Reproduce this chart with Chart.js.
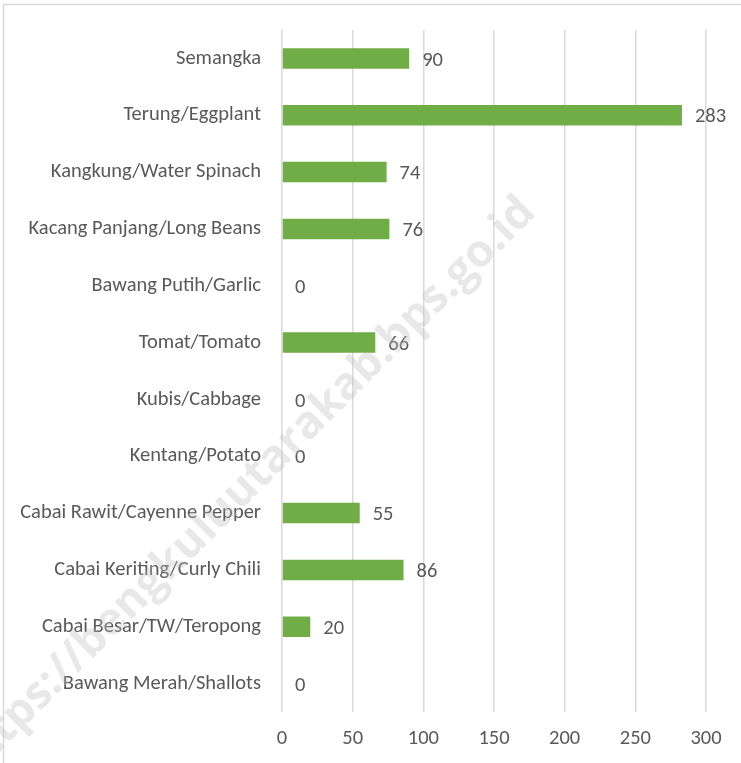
<!DOCTYPE html>
<html>
<head>
<meta charset="utf-8">
<script src="https://cdn.jsdelivr.net/npm/chart.js@4/dist/chart.umd.min.js"></script>
<style>
  html, body { margin: 0; padding: 0; background: #fff; }
  #wrap { width: 741px; height: 763px; position: relative; }
</style>
</head>
<body>
<div id="wrap"><canvas id="chart"></canvas></div>
<script>
// --- data ---
const categories = [
    "Semangka",
    "Terung/Eggplant",
    "Kangkung/Water Spinach",
    "Kacang Panjang/Long Beans",
    "Bawang Putih/Garlic",
    "Tomat/Tomato",
    "Kubis/Cabbage",
    "Kentang/Potato",
    "Cabai Rawit/Cayenne Pepper",
    "Cabai Keriting/Curly Chili",
    "Cabai Besar/TW/Teropong",
    "Bawang Merah/Shallots"
];
const values = [90, 283, 74, 76, 0, 66, 0, 0, 55, 86, 20, 0];
const xTicks = [0, 50, 100, 150, 200, 250, 300];

const FONT = "Calibri, Carlito, Lato, sans-serif";
const FSIZE = 20.5;
const TEXT = '#595959';

// value labels next to the bars
const valueLabels = {
    id: 'valueLabels',
    afterDatasetsDraw(chart) {
        const ctx = chart.ctx;
        const meta = chart.getDatasetMeta(0);
        ctx.save();
        ctx.font = FSIZE + 'px ' + FONT;
        ctx.fillStyle = TEXT;
        ctx.textAlign = 'left';
        ctx.textBaseline = 'middle';
        meta.data.forEach((bar, i) => {
            ctx.fillText(String(values[i]), bar.x + 13, bar.y + 2);
        });
        ctx.restore();
    }
};

// outer frame + watermark
const decor = {
    id: 'decor',
    beforeDraw(chart) {
        const ctx = chart.ctx;
        ctx.save();
        ctx.strokeStyle = '#d9d9d9';
        ctx.lineWidth = 1.5;
        ctx.strokeRect(3.5, 4.5, chart.width + 10, chart.height + 10);
        ctx.restore();
    },
    afterDraw(chart) {
        const ctx = chart.ctx;
        ctx.save();
        ctx.translate(245, 488);
        ctx.rotate(-45 * Math.PI / 180);
        ctx.font = 'bold 45px "Open Sans", sans-serif';
        ctx.fillStyle = 'rgba(190,190,190,0.35)';
        ctx.textAlign = 'center';
        ctx.textBaseline = 'middle';
        ctx.fillText('https://bengkuluutarakab.bps.go.id', 0, 0);
        ctx.restore();
    }
};

new Chart(document.getElementById('chart'), {
    type: 'bar',
    data: {
        labels: categories,
        datasets: [{
            data: values,
            backgroundColor: '#70AD47',
            borderWidth: 0,
            barPercentage: 0.36,
            categoryPercentage: 1.0
        }]
    },
    options: {
        indexAxis: 'y',
        responsive: true,
        maintainAspectRatio: false,
        animation: false,
        layout: { padding: { top: 30, right: 35, left: 0, bottom: 0 } },
        plugins: { legend: { display: false }, tooltip: { enabled: false } },
        scales: {
            x: {
                min: 0,
                max: 300,
                afterBuildTicks: s => { s.ticks = xTicks.map(v => ({ value: v })); },
                afterFit: s => { s.height = 51; },
                grid: { color: '#d9d9d9', lineWidth: 1.5, drawTicks: false },
                border: { display: false },
                ticks: { color: TEXT, padding: 15, font: { family: FONT, size: FSIZE } }
            },
            y: {
                afterFit: s => { s.width = 282; },
                grid: { display: false, drawTicks: true, tickLength: 21 },
                border: { display: false },
                ticks: { color: TEXT, padding: 0, font: { family: FONT, size: FSIZE } }
            }
        }
    },
    plugins: [decor, valueLabels]
});
</script>
</body>
</html>
